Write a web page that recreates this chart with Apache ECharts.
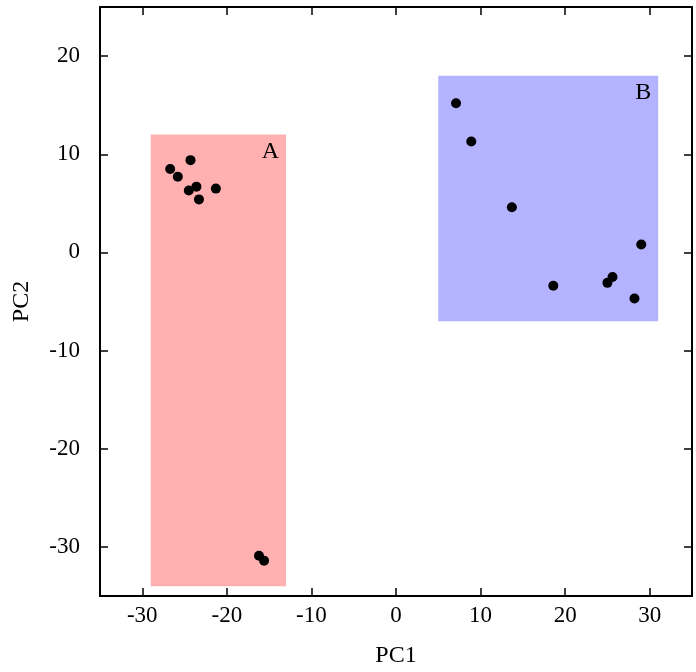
<!DOCTYPE html>
<html>
<head>
<meta charset="UTF-8">
<title>PCA</title>
<script src="https://cdn.jsdelivr.net/npm/echarts@6/dist/echarts.min.js"></script>
<style>
html, body { margin: 0; padding: 0; background: #fff; }
#main { width: 696px; height: 672px; }
</style>
</head>
<body>
<div id="main"></div>
<script>
// group A points (PC1, PC2)
var groupA = [
  [-26.7, 8.5], [-24.3, 9.4], [-25.8, 7.7], [-24.5, 6.3], [-23.6, 6.7],
  [-23.3, 5.4], [-21.3, 6.5], [-16.2, -30.9], [-15.6, -31.4]
];
// group B points
var groupB = [
  [7.1, 15.2], [8.9, 11.3], [13.7, 4.6], [29.0, 0.8], [18.6, -3.4],
  [25.6, -2.5], [25.0, -3.1], [28.2, -4.7]
];
// boxes: [xmin, ymin, xmax, ymax, name]
var boxes = [
  [-29, -34, -13, 12, 'A'],
  [5, -7, 31, 18, 'B']
];
var boxColors = ['#ffb1b1', '#b3b3ff'];
// tick positions
var xTicks = [-30, -20, -10, 0, 10, 20, 30];
var yTicks = [-30, -20, -10, 0, 10, 20];

var serif = 'Liberation Serif';
var chart = echarts.init(document.getElementById('main'));

function renderBox(params, api) {
  var p0 = api.coord([api.value(0), api.value(3)]);
  var p1 = api.coord([api.value(2), api.value(1)]);
  var name = boxes[params.dataIndex][4];
  return {
    type: 'group',
    children: [
      {
        type: 'rect',
        shape: { x: p0[0], y: p0[1], width: p1[0] - p0[0], height: p1[1] - p0[1] },
        style: { fill: boxColors[params.dataIndex] }
      },
      {
        type: 'text',
        x: p1[0] - 7, y: p0[1] + 5,
        style: {
          text: name, fill: '#000', font: '24px "' + serif + '"',
          textAlign: 'right', textVerticalAlign: 'top'
        }
      }
    ]
  };
}

function axis(ticks, extra) {
  return Object.assign({
    type: 'value',
    splitLine: { show: false },
    axisLine: { show: true, onZero: false, lineStyle: { color: '#000', width: 2 } },
    axisTick: { show: true, inside: true, length: 8, customValues: ticks,
      lineStyle: { color: '#000', width: 1.5 } }
  }, extra);
}

var option = {
  animation: false,
  grid: { left: 100, right: 4, top: 7, bottom: 76, outerBoundsMode: 'none' },
  xAxis: [
    axis(xTicks, {
      min: -35, max: 35, position: 'bottom',
      name: 'PC1', nameLocation: 'middle', nameGap: 48,
      nameTextStyle: { fontFamily: serif, fontSize: 24, color: '#000' },
      axisLabel: { margin: 8, customValues: xTicks, fontFamily: serif, fontSize: 23, color: '#000' }
    }),
    axis(xTicks, {
      min: -35, max: 35, position: 'top',
      axisLabel: { show: false }
    })
  ],
  yAxis: [
    axis(yTicks, {
      min: -35, max: 25, position: 'left',
      name: 'PC2', nameLocation: 'middle', nameGap: 66,
      nameTextStyle: { fontFamily: serif, fontSize: 24, color: '#000' },
      axisLabel: { margin: 20, customValues: yTicks, fontFamily: serif, fontSize: 23, color: '#000' }
    }),
    axis(yTicks, {
      min: -35, max: 25, position: 'right',
      axisLabel: { show: false }
    })
  ],
  series: [
    {
      type: 'custom', data: boxes, renderItem: renderBox, silent: true, z: 1,
      encode: { x: [0, 2], y: [1, 3] }
    },
    {
      name: 'A', type: 'scatter', data: groupA, symbolSize: 10, z: 3,
      itemStyle: { color: '#000', opacity: 1 }
    },
    {
      name: 'B', type: 'scatter', data: groupB, symbolSize: 10, z: 3,
      itemStyle: { color: '#000', opacity: 1 }
    }
  ]
};
chart.setOption(option);
</script>
</body>
</html>
